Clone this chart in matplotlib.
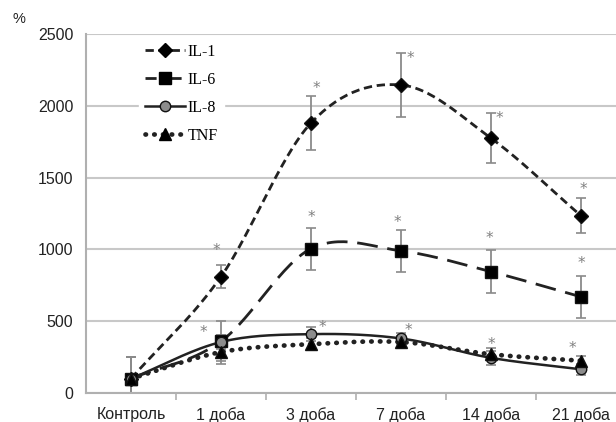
import numpy as np
import matplotlib.pyplot as plt
from matplotlib.lines import Line2D

# data (% of control)
categories = ['Контроль', '1 доба', '3 доба', '7 доба', '14 доба', '21 доба']

il1 = [100, 810, 1880, 2145, 1775, 1235]
il1_err = [150, 80, 190, 220, 175, 120]
il6 = [100, 360, 1005, 990, 845, 670]
il6_err = [150, 140, 145, 145, 150, 145]
il8 = [100, 355, 410, 380, 245, 165]
il8_err = [150, 50, 50, 40, 50, 40]
tnf = [100, 285, 340, 355, 270, 225]
tnf_err = [150, 85, 40, 40, 40, 30]

# significance marks: category index for each series
stars_il1 = [1, 2, 3, 4, 5]
stars_il6 = [1, 2, 3, 4, 5]
stars_il8 = [2, 3, 4, 5]

# where each asterisk sits relative to the error bar top (style only)
off_il1 = [(-0.05, 100), (0.06, 50), (0.11, -35), (0.09, -35), (0.03, 65)]
off_il6 = [(-0.2, -80), (0.0, 70), (-0.04, 50), (-0.02, 80), (0.0, 90)]
off_il8 = [(0.13, -5), (0.08, 15), (0.01, 45), (-0.1, 105)]


def smooth(ys, n=30):
    # Catmull-Rom spline through the points (Excel-like smoothed line)
    xs = np.arange(len(ys), dtype=float)
    ys = np.asarray(ys, dtype=float)
    px = np.concatenate([[2 * xs[0] - xs[1]], xs, [2 * xs[-1] - xs[-2]]])
    py = np.concatenate([[2 * ys[0] - ys[1]], ys, [2 * ys[-1] - ys[-2]]])
    ox, oy = [], []
    for i in range(1, len(px) - 2):
        t = np.linspace(0, 1, n, endpoint=False)
        for p, out in ((px, ox), (py, oy)):
            p0, p1, p2, p3 = p[i - 1], p[i], p[i + 1], p[i + 2]
            out.extend(0.5 * ((2 * p1) + (-p0 + p2) * t
                              + (2 * p0 - 5 * p1 + 4 * p2 - p3) * t ** 2
                              + (-p0 + 3 * p1 - 3 * p2 + p3) * t ** 3))
    ox.append(xs[-1])
    oy.append(ys[-1])
    return np.array(ox), np.array(oy)


fig = plt.figure(figsize=(6.16, 4.22), dpi=100)
ax = fig.add_axes([0.1396, 0.0687, 0.8604, 0.8507])

x = np.arange(len(categories))
grey = '#8a8a8a'

dash1 = (0, (3, 1.7))
dash6 = (0, (7.5, 3.5))
dots = (0, (0.1, 1.75))

series = [
    (il1, il1_err, 'D', 'black', dash1, 2.0, 7.5),
    (il6, il6_err, 's', 'black', dash6, 2.0, 8.5),
    (il8, il8_err, 'o', '#8c8c8c', '-', 1.8, 7.5),
    (tnf, tnf_err, '^', 'black', dots, 3.4, 8.5),
]

for vals, err, mk, fc, ls, lw, ms in series:
    sx, sy = smooth(vals)
    ax.plot(sx, sy, color='#222222', linestyle=ls, linewidth=lw,
            dash_capstyle='round' if mk == '^' else 'butt', zorder=3)
    ax.errorbar(x, vals, yerr=err, fmt='none', ecolor=grey, elinewidth=1.3,
                capsize=3.5, capthick=1.2, zorder=2)
    ax.plot(x, vals, linestyle='none', marker=mk, markersize=ms,
            markerfacecolor=fc, markeredgecolor='#111111', markeredgewidth=1.0, zorder=4)

star_kw = dict(color='#808080', fontsize=11, ha='center', va='center', zorder=5)
for idx, vals, err, offs in ((stars_il1, il1, il1_err, off_il1),
                             (stars_il6, il6, il6_err, off_il6),
                             (stars_il8, il8, il8_err, off_il8)):
    for i, (dx, dy) in zip(idx, offs):
        ax.text(x[i] + dx, vals[i] + err[i] + dy, '*', **star_kw)

ax.set_xlim(-0.5, 5.39)
ax.set_ylim(0, 2500)
ax.set_yticks([0, 500, 1000, 1500, 2000, 2500])
ax.set_xticks(x)
ax.set_xticklabels(categories)
ax.set_xticks(x[:-1] + 0.5, minor=True)
ax.tick_params(axis='x', which='major', length=0, pad=10, labelsize=11.5)
ax.tick_params(axis='x', which='minor', length=5, color='#b0b0b0', width=1.2)
ax.tick_params(axis='y', length=0, labelsize=11.5, pad=9)
for lab in ax.get_xticklabels() + ax.get_yticklabels():
    lab.set_fontfamily('Liberation Sans')
    lab.set_color('#222222')

ax.grid(axis='y', color='#c8c8c8', linewidth=1.5)
ax.set_axisbelow(True)
for s in ['top', 'right']:
    ax.spines[s].set_visible(False)
ax.spines['left'].set_color('#b0b0b0')
ax.spines['left'].set_linewidth(1.5)
ax.spines['bottom'].set_color('#b0b0b0')
ax.spines['bottom'].set_linewidth(1.5)

handles = [
    Line2D([], [], color='#222222', linestyle=dash1, linewidth=2, marker='D',
           markersize=7.5, markerfacecolor='black', markeredgecolor='black'),
    Line2D([], [], color='#222222', linestyle=(2, (6, 3)), linewidth=2, marker='s',
           markersize=8.5, markerfacecolor='black', markeredgecolor='black'),
    Line2D([], [], color='#222222', linestyle='-', linewidth=1.8, marker='o',
           markersize=7.5, markerfacecolor='#8c8c8c', markeredgecolor='#111111'),
    Line2D([], [], color='#222222', linestyle=dots, linewidth=3.4,
           dash_capstyle='round', marker='^', markersize=8.5,
           markerfacecolor='black', markeredgecolor='black'),
]
leg = ax.legend(handles, ['IL-1', 'IL-6', 'IL-8', 'TNF'], loc='upper left',
                bbox_to_anchor=(0.085, 1.012), frameon=True, framealpha=1,
                edgecolor='white', fancybox=False, handlelength=2.5,
                handletextpad=0.15, labelspacing=0.75,
                prop={'family': 'Liberation Serif', 'size': 11.5})

fig.text(0.02, 0.945, '%', fontsize=10.5, family='Liberation Sans', color='#222222')

fig.savefig('out.png', dpi=100)
